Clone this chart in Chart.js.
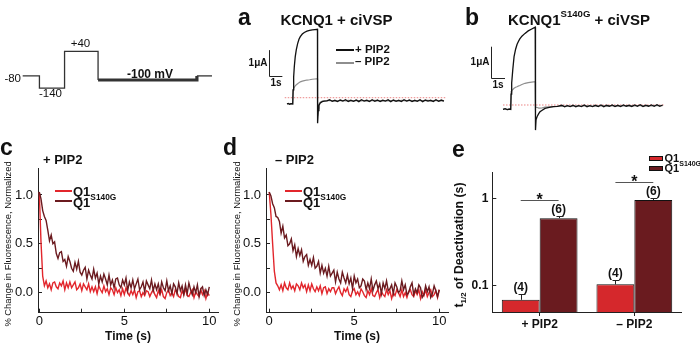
<!DOCTYPE html>
<html>
<head>
<meta charset="utf-8">
<title>KCNQ1 / ciVSP deactivation</title>
<script src="https://cdn.jsdelivr.net/npm/chart.js@4.4.1/dist/chart.umd.min.js"></script>
<style>
  html, body { margin: 0; padding: 0; background: #fff; }
  #fig { position: relative; width: 700px; height: 346px; overflow: hidden;
         font-family: 'Liberation Sans', Arial, Helvetica, sans-serif; color: #111; }
  #fig canvas { position: absolute; }
  .lbl { position: absolute; white-space: nowrap; line-height: 1; }
  .key { position: absolute; box-sizing: border-box; }
  sup { font-size: 64%; vertical-align: 0; position: relative; top: -0.85em; line-height: 0; }
  sub { font-size: 64%; vertical-align: 0; position: relative; top: 0.35em; line-height: 0; }
</style>
</head>
<body>
<div id="fig"></div>
<script>
// ---- voltage protocol (s, mV) ----
const protoT = [0, 0.5, 1.25, 2.25, 5.2, 5.65];
const protoV = [-80, -140, 40, -100, -80, -80];

// ---- a: KCNQ1 + ciVSP currents (s, uA) ----
const tA = [0, 0.1, 0.2, 0.3, 0.43, 0.46, 0.5, 0.55, 0.62, 0.7, 0.8, 0.9, 1.0, 1.15, 1.3, 1.5, 1.7, 1.9, 2.1, 2.29,
  2.3, 2.35, 2.4, 2.5, 2.65, 2.8, 3.0,
  3.2, 3.4, 3.6, 3.8, 4.0, 4.2, 4.4, 4.6, 4.8, 5.0, 5.2, 5.4, 5.6, 5.8, 6.0, 6.2, 6.4, 6.6, 6.8, 7.0, 7.2, 7.4,
  7.6, 7.8, 8.0, 8.2, 8.4, 8.6, 8.8, 9.0, 9.2, 9.4, 9.6, 9.8, 10.0, 10.2, 10.4, 10.6, 10.8, 11.0, 11.2, 11.4, 11.6, 11.8];
const iA_plus = [-0.24, -0.22, -0.25, -0.23, -0.24, 0.30, 0.80, 1.20, 1.58, 1.85, 2.08, 2.25, 2.35, 2.45, 2.51, 2.56, 2.59, 2.61, 2.62, 2.63,
  -0.98, -0.50, -0.30, -0.20, -0.15, -0.13, -0.12,
  -0.08, -0.14, -0.10, -0.15, -0.09, -0.13, -0.08, -0.15, -0.10, -0.14, -0.09, -0.15, -0.08, -0.13, -0.10, -0.15, -0.08, -0.14,
  -0.09, -0.15, -0.10, -0.13, -0.08, -0.15, -0.09, -0.14, -0.10, -0.15, -0.08, -0.13, -0.09, -0.15, -0.10, -0.14, -0.08, -0.15,
  -0.09, -0.13, -0.10, -0.15, -0.08, -0.14, -0.09, -0.13];
const iA_minus = [-0.24, -0.23, -0.25, -0.24, -0.24, 0.30, 0.36, 0.40, 0.46, 0.50, 0.54, 0.58, 0.61, 0.64, 0.66, 0.68, 0.69, 0.71, 0.72, 0.73,
  -0.70, -0.40, -0.25, -0.17, -0.13, -0.12, -0.11,
  -0.10, -0.12, -0.11, -0.12, -0.10, -0.11, -0.12, -0.10, -0.11, -0.12, -0.10, -0.11, -0.12, -0.11, -0.10, -0.12, -0.11, -0.10,
  -0.12, -0.11, -0.10, -0.12, -0.11, -0.12, -0.10, -0.11, -0.12, -0.10, -0.11, -0.12, -0.10, -0.11, -0.12, -0.11, -0.10, -0.12,
  -0.11, -0.10, -0.12, -0.11, -0.10, -0.12, -0.11, -0.12];
const zeroA = [-0.17, 11.95];

// ---- b: KCNQ1 S140G + ciVSP currents (s, uA) ----
const tB = [0, 0.15, 0.3, 0.45, 0.55, 0.58, 0.62, 0.7, 0.79, 0.9, 1.0, 1.09, 1.2, 1.35, 1.57, 1.8, 2.05, 2.3,
  2.32, 2.36, 2.45, 2.55, 2.64, 2.8, 3.0, 3.3, 3.59, 3.9,
  4.2, 4.4, 4.6, 4.8, 5.0, 5.2, 5.4, 5.6, 5.8, 6.0, 6.2, 6.4, 6.6, 6.8, 7.0, 7.2, 7.4, 7.6, 7.8, 8.0, 8.2,
  8.4, 8.6, 8.8, 9.0, 9.2, 9.4, 9.6, 9.8, 10.0, 10.2, 10.4, 10.6, 10.8, 11.0, 11.2, 11.4];
const iB_plus = [-0.14, -0.12, -0.15, -0.13, -0.14, 0.35, 0.71, 1.15, 1.56, 1.80, 1.95, 2.04, 2.13, 2.22, 2.31, 2.39, 2.45, 2.51,
  -0.81, -0.48, -0.36, -0.28, -0.22, -0.17, -0.11, -0.08, -0.055, -0.045,
  -0.01, -0.06, -0.02, -0.05, -0.01, -0.06, -0.02, -0.05, 0.00, -0.06, -0.02, -0.05, -0.01, -0.05, 0.00, -0.06, -0.01, -0.04,
  0.00, -0.05, -0.01, -0.05, 0.00, -0.04, -0.01, -0.05, 0.00, -0.04, 0.01, -0.05, -0.01, -0.04, 0.00, -0.04, 0.01, -0.04, 0.00];
const iB_minus = [-0.14, -0.13, -0.15, -0.14, -0.14, 0.43, 0.46, 0.50, 0.54, 0.57, 0.59, 0.61, 0.63, 0.66, 0.70, 0.72, 0.74, 0.75,
  -0.10, -0.07, -0.08, -0.10, -0.10, -0.09, -0.07, -0.06, -0.05, -0.04,
  -0.03, -0.04, -0.02, -0.04, -0.03, -0.03, -0.02, -0.04, -0.03, -0.02, -0.03, -0.04, -0.02, -0.03, -0.03, -0.02, -0.04, -0.03,
  -0.02, -0.03, -0.02, -0.03, -0.03, -0.02, -0.03, -0.02, -0.03, -0.02, -0.02, -0.03, -0.02, -0.02, -0.03, -0.02, -0.01, -0.02, -0.02];
const zeroB = [0, 11.57];

// ---- c, d: normalized fluorescence, sampled every 0.1 s from 0 to 10 s ----
const dt = 0.1;
const tF = Array.from({ length: 101 }, (_, i) => +(i * dt).toFixed(1));
const fC_q1 = [1.03, 0.52, 0.17, 0.07, 0.12, 0.05, 0.09, 0.03, 0.10, 0.11,
  0.06, 0.04, 0.10, 0.07, 0.12, 0.03, 0.10, 0.05, 0.11, 0.05,
  0.08, 0.11, 0.03, 0.05, 0.09, 0.02, 0.09, 0.06, 0.03, 0.09,
  0.01, 0.06, 0.01, 0.06, -0.01, 0.07, 0.03, 0.00, 0.07, 0.01,
  0.04, -0.02, 0.05, 0.03, -0.02, 0.05, 0.00, 0.03, -0.03, 0.04,
  -0.02, 0.05, 0.00, -0.03, 0.02, -0.02, 0.03, -0.05, 0.01, 0.02,
  -0.04, 0.00, -0.03, 0.02, 0.01, -0.04, 0.00, 0.03, -0.02, -0.05,
  0.02, -0.02, 0.03, -0.04, -0.06, 0.00, 0.03, -0.03, 0.00, -0.04,
  0.03, 0.00, -0.04, -0.05, 0.02, -0.02, 0.04, -0.03, -0.04, 0.00,
  0.03, -0.05, 0.01, -0.02, -0.04, 0.03, -0.02, 0.02, -0.06, 0.00,
  -0.03];
const fC_s140g = [1.03, 0.96, 0.84, 0.78, 0.74, 0.64, 0.53, 0.59, 0.50, 0.52,
  0.40, 0.35, 0.41, 0.42, 0.32, 0.34, 0.27, 0.37, 0.32, 0.25,
  0.22, 0.31, 0.24, 0.32, 0.21, 0.18, 0.23, 0.26, 0.14, 0.23,
  0.18, 0.14, 0.24, 0.15, 0.20, 0.09, 0.17, 0.11, 0.19, 0.14,
  0.08, 0.18, 0.08, 0.13, 0.05, 0.14, 0.15, 0.08, 0.05, 0.13,
  0.08, 0.15, 0.02, 0.11, 0.05, 0.13, 0.04, 0.09, 0.14, 0.03,
  0.06, 0.11, 0.01, 0.12, 0.08, 0.04, 0.13, 0.02, 0.09, 0.03,
  0.09, 0.00, 0.11, 0.05, 0.02, 0.12, 0.02, 0.07, -0.01, 0.09,
  0.06, -0.01, 0.10, 0.02, 0.07, -0.02, 0.08, -0.01, 0.10, 0.03,
  -0.02, 0.06, 0.00, 0.08, -0.04, 0.04, 0.06, -0.03, 0.03, -0.02,
  0.06];
const fD_q1 = [1.03, 0.80, 0.50, 0.22, 0.10, 0.07, 0.03, 0.08, 0.02, 0.10,
  0.05, 0.03, 0.10, 0.04, 0.07, 0.02, 0.09, 0.07, 0.03, 0.10,
  0.05, 0.08, 0.01, 0.08, 0.02, 0.09, 0.04, 0.01, 0.06, 0.02,
  0.07, -0.01, 0.05, 0.06, -0.01, 0.04, 0.01, 0.05, 0.05, -0.01,
  0.03, 0.06, 0.00, -0.03, 0.04, 0.01, 0.05, -0.02, -0.04, 0.02,
  0.04, -0.02, 0.01, -0.03, 0.04, 0.01, -0.03, -0.05, 0.02, -0.02,
  0.04, -0.03, -0.04, 0.00, 0.03, -0.05, 0.01, -0.02, -0.04, 0.03,
  -0.02, 0.02, -0.06, 0.00, -0.03, 0.03, 0.00, -0.04, 0.03, -0.04,
  0.00, -0.05, 0.01, 0.03, -0.02, -0.04, 0.02, -0.02, 0.03, -0.06,
  0.01, -0.03, 0.03, -0.04, 0.00, 0.03, -0.04, -0.02, 0.02, -0.05,
  0.03];
const fD_s140g = [1.03, 0.99, 0.91, 0.87, 0.78, 0.77, 0.73, 0.61, 0.68, 0.56,
  0.59, 0.48, 0.50, 0.55, 0.43, 0.49, 0.37, 0.45, 0.38, 0.44,
  0.32, 0.37, 0.39, 0.28, 0.34, 0.28, 0.36, 0.25, 0.27, 0.32,
  0.20, 0.28, 0.20, 0.25, 0.17, 0.27, 0.17, 0.20, 0.23, 0.11,
  0.21, 0.14, 0.10, 0.21, 0.15, 0.10, 0.18, 0.09, 0.15, 0.04,
  0.17, 0.10, 0.14, 0.05, 0.07, 0.14, 0.12, 0.03, 0.10, 0.04,
  0.14, 0.02, 0.08, 0.12, 0.04, 0.09, -0.01, 0.10, 0.04, 0.12,
  0.02, 0.04, 0.08, -0.01, 0.10, 0.06, 0.00, 0.02, 0.12, 0.03,
  0.08, -0.02, 0.00, 0.06, 0.10, -0.02, 0.04, 0.00, 0.08, 0.05,
  -0.05, -0.02, 0.07, 0.01, 0.06, -0.05, -0.01, 0.07, 0.02, -0.04,
  0.03];
const fluoXTicks = [0, 2.5, 5, 7.5, 10];
const fluoYTicks = [0, 0.25, 0.5, 0.75, 1.0];

// ---- e: deactivation half-time (s) ----
const conditions = ['+ PIP2', '\u2013 PIP2'];
const t12_q1 = [0.069, 0.104];
const t12_s140g = [0.60, 0.97];
const err_q1 = [0.011, 0.012];
const err_s140g = [0.04, 0.05];
const n_q1 = [4, 4];
const n_s140g = [6, 6];
const sigMarks = ['*', '*'];
const t12Ticks = [0.1, 1];

const RED = '#e2262c', DARK = '#6b1a1f', RED_BAR = '#d5282c', DARK_BAR = '#6a1b1f';
const FONT = "'Liberation Sans', Arial, sans-serif";
Chart.defaults.font.family = FONT;
Chart.defaults.color = '#111';

const fig = document.getElementById('fig');
const xy = (xs, ys) => xs.map((x, i) => ({ x, y: ys[i] }));

function panel(left, top, w, h) {
  const c = document.createElement('canvas');
  c.width = w; c.height = h;
  c.style.left = left + 'px'; c.style.top = top + 'px';
  c.style.width = w + 'px'; c.style.height = h + 'px';
  fig.appendChild(c);
  return c;
}

// text placed by its baseline
function put(html, x, base, size, opt = {}) {
  const d = document.createElement('div');
  d.className = 'lbl';
  d.innerHTML = html;
  d.style.fontSize = size + 'px';
  if (opt.bold) d.style.fontWeight = 'bold';
  d.style.left = x + 'px';
  d.style.top = (base - 0.8465 * size) + 'px';
  const sx = opt.align === 'center' ? '-50%' : opt.align === 'right' ? '-100%' : '0';
  d.style.transform = 'translateX(' + sx + ')';
  fig.appendChild(d);
}
function vput(html, cx, cy, size, bold) {
  const d = document.createElement('div');
  d.className = 'lbl';
  d.innerHTML = html;
  d.style.fontSize = size + 'px';
  if (bold) d.style.fontWeight = 'bold';
  d.style.left = cx + 'px'; d.style.top = cy + 'px';
  d.style.transform = 'translate(-50%,-50%) rotate(-90deg)';
  fig.appendChild(d);
}
function key(x, y, w, h, color, border) {
  const d = document.createElement('div');
  d.className = 'key';
  Object.assign(d.style, { left: x + 'px', top: y + 'px', width: w + 'px', height: h + 'px', background: color });
  if (border) d.style.border = '1px solid #111';
  fig.appendChild(d);
}

const bareOptions = (xmin, xmax, ymin, ymax) => ({
  responsive: false, animation: false, devicePixelRatio: 1,
  layout: { padding: 0 },
  plugins: { legend: { display: false }, tooltip: { enabled: false } },
  elements: { point: { radius: 0 }, line: { tension: 0 } },
  scales: {
    x: { type: 'linear', display: false, min: xmin, max: xmax },
    y: { type: 'linear', display: false, min: ymin, max: ymax }
  }
});

// 1 s / 1 uA calibration bars, drawn through the trace scales
const scaleBar = {
  id: 'scaleBar',
  afterDraw(chart, args, o) {
    const { ctx, scales: { x, y } } = chart;
    const x0 = Math.round(x.getPixelForValue(o.t)) + 0.5, x1 = x.getPixelForValue(o.t + 1);
    const y0 = Math.round(y.getPixelForValue(o.i)) + 0.5, y1 = y.getPixelForValue(o.i + 1);
    ctx.save();
    ctx.strokeStyle = '#222'; ctx.lineWidth = 1;
    ctx.beginPath(); ctx.moveTo(x0, y1); ctx.lineTo(x0, y0); ctx.lineTo(x1, y0); ctx.stroke();
    ctx.fillStyle = '#111'; ctx.font = 'bold 10px ' + FONT;
    ctx.textAlign = 'right'; ctx.textBaseline = 'middle';
    ctx.fillText('1\u03bcA', x0 - 2, (y0 + y1) / 2);
    ctx.textAlign = 'left'; ctx.textBaseline = 'top';
    ctx.fillText('1s', x0 + 1, y0 + 2);
    ctx.restore();
  }
};

// ---- protocol ----
new Chart(panel(20, 40, 196, 60), {
  type: 'line',
  data: { datasets: [{
    data: xy(protoT, protoV), borderColor: '#333', borderWidth: 1.3, stepped: 'before',
    segment: { borderWidth: s => (s.p0.parsed.y === -100 ? 3.2 : 1.3) }
  }] },
  options: bareOptions(-0.08, 5.77, -197.6, 95.1)
});
put('-80', 21, 82.5, 11.5, { align: 'right' });
put('-140', 50.5, 98, 11.5, { align: 'center' });
put('+40', 80.5, 48, 11.5, { align: 'center' });
put('-100 mV', 150, 78, 12, { bold: true, align: 'center' });

// ---- a ----
new Chart(panel(240, 22, 208, 106), {
  type: 'line',
  data: { datasets: [
    { data: xy(tA, iA_plus), borderColor: '#111', borderWidth: 1.3, order: 0 },
    { data: xy(tA, iA_minus), borderColor: '#8e8e8e', borderWidth: 1.2, order: 1 },
    { data: xy(zeroA, [0, 0]), borderColor: 'rgba(232,110,110,0.85)', borderWidth: 1, borderDash: [1.5, 1.5], order: 2 }
  ] },
  options: { ...bareOptions(-3.534, 12.105, -1.165, 2.912), plugins: { legend: { display: false }, tooltip: { enabled: false }, scaleBar: { t: -1.35, i: 0.83 } } },
  plugins: [scaleBar]
});
put('a', 238, 25, 23, { bold: true });
put('KCNQ1 + ciVSP', 336.5, 25, 15, { bold: true, align: 'center' });
key(336, 49, 18, 2, '#111');
key(336, 62, 18, 2, '#8e8e8e');
put('+ PIP2', 355, 54, 11.5, { bold: true });
put('\u2013 PIP2', 355, 66, 11.5, { bold: true });

// ---- b ----
new Chart(panel(462, 22, 206, 110), {
  type: 'line',
  data: { datasets: [
    { data: xy(tB, iB_plus), borderColor: '#111', borderWidth: 1.3, order: 0 },
    { data: xy(tB, iB_minus), borderColor: '#8e8e8e', borderWidth: 1.2, order: 1 },
    { data: xy(zeroB, [0, 0]), borderColor: 'rgba(232,110,110,0.85)', borderWidth: 1, borderDash: [1.5, 1.5], order: 2 }
  ] },
  options: { ...bareOptions(-2.929, 11.786, -0.871, 2.677), plugins: { legend: { display: false }, tooltip: { enabled: false }, scaleBar: { t: -0.857, i: 0.88 } } },
  plugins: [scaleBar]
});
put('b', 465, 25, 23, { bold: true });
put('KCNQ1<sup>S140G</sup> + ciVSP', 579, 25, 15, { bold: true, align: 'center' });

// ---- c, d ----
function fluoChart(left, axisW, xmin, q1, s140g) {
  return new Chart(panel(left, 130, 230, 216), {
    type: 'line',
    data: { datasets: [
      { data: xy(tF, s140g), borderColor: DARK, borderWidth: 1.4, order: 0 },
      { data: xy(tF, q1), borderColor: RED, borderWidth: 1.4, order: 1 }
    ] },
    options: {
      responsive: false, animation: false, devicePixelRatio: 1,
      layout: { padding: { left: 0, top: 38, right: 12, bottom: 0 } },
      plugins: { legend: { display: false }, tooltip: { enabled: false } },
      elements: { point: { radius: 0 }, line: { tension: 0 } },
      scales: {
        x: {
          type: 'linear', min: xmin, max: xmin + (218 - axisW) / 17,
          afterBuildTicks: ax => { ax.ticks = fluoXTicks.map(v => ({ value: v })); },
          afterFit: ax => { ax.height = 33.3; },
          grid: { drawOnChartArea: false, tickLength: -4, color: '#222' },
          border: { color: '#222' },
          ticks: { padding: 5, maxRotation: 0, font: { size: 13 }, callback: v => (v % 5 === 0 ? String(v) : '') },
          title: { display: true, text: 'Time (s)', font: { size: 12, weight: 'bold' }, padding: { top: 0, bottom: 2 } }
        },
        y: {
          type: 'linear', min: -0.205, max: 1.276,
          afterBuildTicks: ax => { ax.ticks = fluoYTicks.map(v => ({ value: v })); },
          afterFit: ax => { ax.width = axisW; },
          grid: { drawOnChartArea: false, tickLength: -4, color: '#222' },
          border: { color: '#222' },
          ticks: { padding: 9, font: { size: 13 }, callback: v => (Math.round(v * 100) % 50 === 0 ? v.toFixed(1) : '') }
        }
      }
    }
  });
}
fluoChart(0, 38, -0.076, fC_q1, fC_s140g);
fluoChart(230, 36, -0.19, fD_q1, fD_s140g);

put('c', 0, 155, 23, { bold: true });
put('+ PIP2', 43, 164.5, 13, { bold: true });
vput('% Change in Fluorescence, Normalized', 7.5, 244, 9.4);
key(55, 190, 17, 2, RED);
key(55, 200, 17, 2, DARK);
put('Q1', 73, 196.5, 13, { bold: true });
put('Q1<sup>S140G</sup>', 73, 207, 13, { bold: true });

put('d', 223, 155, 23, { bold: true });
put('\u2013 PIP2', 275, 164.5, 13, { bold: true });
vput('% Change in Fluorescence, Normalized', 237, 244, 9.4);
key(285, 190, 17, 2, RED);
key(285, 200, 17, 2, DARK);
put('Q1', 303, 196.5, 13, { bold: true });
put('Q1<sup>S140G</sup>', 303, 207, 13, { bold: true });

// ---- e ----
// error bars, n counts and significance brackets above the bars
const barExtras = {
  id: 'barExtras',
  afterDatasetsDraw(chart) {
    const { ctx, scales: { y } } = chart;
    const errs = [err_q1, err_s140g], ns = [n_q1, n_s140g];
    const tops = [[], []];
    ctx.save();
    ctx.lineWidth = 1; ctx.strokeStyle = '#222'; ctx.fillStyle = '#111';
    ctx.font = 'bold 12px ' + FONT; ctx.textAlign = 'center'; ctx.textBaseline = 'bottom';
    chart.data.datasets.forEach((ds, i) => {
      chart.getDatasetMeta(i).data.forEach((bar, j) => {
        const top = Math.round(y.getPixelForValue(ds.data[j] + errs[i][j])) + 0.5;
        const bx = Math.round(bar.x) + 0.5;
        ctx.beginPath();
        ctx.moveTo(bx, bar.y); ctx.lineTo(bx, top);
        ctx.moveTo(bx - 3, top); ctx.lineTo(bx + 4, top);
        ctx.stroke();
        ctx.fillText('(' + ns[i][j] + ')', bar.x, top - 0.5);
        tops[i][j] = { x: bar.x, y: top };
      });
    });
    ctx.strokeStyle = '#555';
    ctx.font = 'bold 16px ' + FONT; ctx.textBaseline = 'alphabetic';
    tops[1].forEach((t, j) => {
      const yl = Math.round(t.y - 17) + 0.5;
      ctx.beginPath(); ctx.moveTo(tops[0][j].x, yl); ctx.lineTo(t.x, yl); ctx.stroke();
      ctx.fillText(sigMarks[j], (tops[0][j].x + t.x) / 2, yl + 4);
    });
    ctx.restore();
  }
};

new Chart(panel(460, 130, 240, 216), {
  type: 'bar',
  data: {
    labels: conditions,
    datasets: [
      { label: 'Q1', data: t12_q1, backgroundColor: RED_BAR, borderColor: '#111', borderWidth: 1 },
      { label: 'Q1 S140G', data: t12_s140g, backgroundColor: DARK_BAR, borderColor: '#111', borderWidth: 1 }
    ]
  },
  options: {
    responsive: false, animation: false, devicePixelRatio: 1,
    layout: { padding: { left: 0, top: 42.7, right: 18.3, bottom: 0 } },
    datasets: { bar: { categoryPercentage: 0.8, barPercentage: 1.0 } },
    plugins: { legend: { display: false }, tooltip: { enabled: false } },
    scales: {
      x: {
        afterFit: ax => { ax.height = 34; },
        grid: { offset: false, drawOnChartArea: false, tickLength: 4, color: '#222' },
        border: { color: '#222' },
        ticks: { padding: 1, font: { size: 12, weight: 'bold' } }
      },
      y: {
        type: 'logarithmic', min: 0.05, max: 2,
        afterBuildTicks: ax => { ax.ticks = t12Ticks.map(v => ({ value: v })); },
        afterFit: ax => { ax.width = 32.3; },
        grid: { drawOnChartArea: false, tickLength: -4, color: '#222' },
        border: { color: '#222' },
        ticks: { padding: 8, font: { size: 12, weight: 'bold' }, callback: v => String(v) }
      }
    }
  },
  plugins: [barExtras]
});
put('e', 452, 157, 23, { bold: true });
vput('t<sub>1/2</sub> of Deactivation (s)', 459, 245, 12.3, true);
key(649, 155.5, 14, 5, RED_BAR, true);
key(649, 165.5, 14, 5, DARK_BAR, true);
put('Q1', 664.5, 162, 11, { bold: true });
put('Q1<sup>S140G</sup>', 664.5, 172, 11, { bold: true });
</script>
</body>
</html>
